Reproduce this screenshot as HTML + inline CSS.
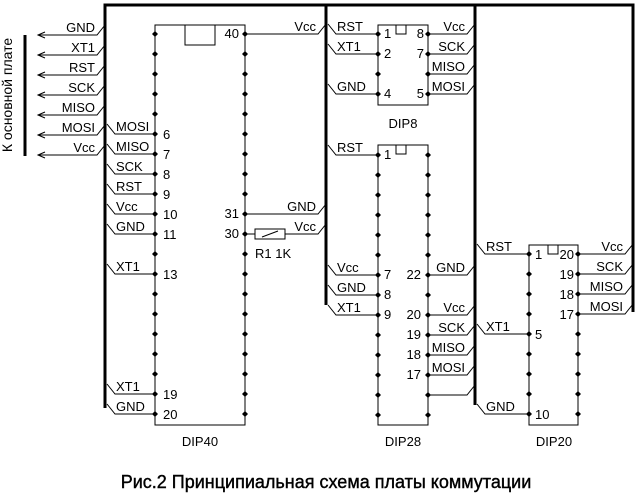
<!DOCTYPE html>
<html><head><meta charset="utf-8"><style>
html,body{margin:0;padding:0;background:#fff;}
svg{display:block;font-family:"Liberation Sans",Arial,sans-serif;}
text{font-size:13px;fill:#000;}
</style></head><body>
<svg id="s" width="640" height="498" viewBox="0 0 640 498" xmlns="http://www.w3.org/2000/svg">
<g stroke="#000" stroke-width="3" fill="none">
<path d="M105,408 V5 H633 V312"/>
<path d="M326,5 V305"/>
<path d="M475,5 V405"/>
<path d="M25,35 V156"/>
</g>
<g id="w" stroke="#000" stroke-width="1" fill="none">
<path d="M155,425 V25 H245 V425 Z"/>
<rect x="185" y="25" width="30" height="20"/>
<path d="M378,105 V25 H428 V105 Z"/>
<path d="M396,25 v9 h10 v-9"/>
<path d="M378,425 V145 H428 V425 Z"/>
<path d="M396,145 v9 h10 v-9"/>
<path d="M529,425 V245 H578 V425 Z"/>
<path d="M548,245 v9 h10 v-9"/>
<path d="M38,35 H97 L105,25 M38,55 H97 L105,45 M38,75 H97 L105,65 M38,95 H97 L105,85 M38,115 H97 L105,105 M38,135 H97 L105,125 M38,155 H97 L105,145"/>
<path d="M45,32 L38,35 L45,38 M45,52 L38,55 L45,58 M45,72 L38,75 L45,78 M45,92 L38,95 L45,98 M45,112 L38,115 L45,118 M45,132 L38,135 L45,138 M45,152 L38,155 L45,158"/>
<path d="M107,124 L115,134 H155 M107,144 L115,154 H155 M107,164 L115,174 H155 M107,184 L115,194 H155 M107,204 L115,214 H155 M107,224 L115,234 H155 M107,264 L115,274 H155 M107,384 L115,394 H155 M107,404 L115,414 H155"/>
<path d="M245,34 H318 L326,24 M245,214 H318 L326,204 M245,234 H255 M285,234 H318 L326,224"/>
<rect x="255" y="229" width="30" height="10"/>
<path d="M262,237 L278,231"/>
<path d="M328,24 L336,34 H378 M328,44 L336,54 H378 M328,84 L336,94 H378"/>
<path d="M428,34 H467 L475,24 M428,54 H467 L475,44 M428,74 H467 L475,64 M428,94 H467 L475,84"/>
<path d="M328,145 L336,155 H378 M328,265 L336,275 H378 M328,285 L336,295 H378 M328,305 L336,315 H378"/>
<path d="M428,275 H467 L475,265 M428,315 H467 L475,305 M428,335 H467 L475,325 M428,355 H467 L475,345 M428,375 H467 L475,365 M428,395 H467 L475,385"/>
<path d="M477,244 L485,254 H529 M477,324 L485,334 H529 M477,404 L485,414 H529"/>
<path d="M578,254 H625 L633,244 M578,274 H625 L633,264 M578,294 H625 L633,284 M578,314 H625 L633,304"/>
</g>
<g id="d"></g>
<text x="12" y="95" text-anchor="middle" transform="rotate(-90 12 95)" style="font-size:14px">К основной плате</text>
<g text-anchor="end">
<text x="95" y="32">GND</text><text x="95" y="52">XT1</text><text x="95" y="72">RST</text><text x="95" y="92">SCK</text><text x="95" y="112">MISO</text><text x="95" y="132">MOSI</text><text x="95" y="152">Vcc</text>
<text x="316" y="31">Vcc</text><text x="316" y="211">GND</text><text x="316" y="231">Vcc</text>
<text x="239" y="38">40</text><text x="239" y="218">31</text><text x="239" y="238">30</text>
<text x="465" y="31">Vcc</text><text x="465" y="51">SCK</text><text x="465" y="71">MISO</text><text x="465" y="91">MOSI</text>
<text x="424" y="38">8</text><text x="424" y="58">7</text><text x="424" y="98">5</text>
<text x="465" y="272">GND</text><text x="465" y="312">Vcc</text><text x="465" y="332">SCK</text><text x="465" y="352">MISO</text><text x="465" y="372">MOSI</text>
<text x="421" y="279">22</text><text x="421" y="319">20</text><text x="421" y="339">19</text><text x="421" y="359">18</text><text x="421" y="379">17</text>
<text x="623" y="251">Vcc</text><text x="623" y="271">SCK</text><text x="623" y="291">MISO</text><text x="623" y="311">MOSI</text>
<text x="574" y="259">20</text><text x="574" y="279">19</text><text x="574" y="299">18</text><text x="574" y="319">17</text>
</g>
<g>
<text x="116" y="131">MOSI</text><text x="116" y="151">MISO</text><text x="116" y="171">SCK</text><text x="116" y="191">RST</text><text x="116" y="211">Vcc</text><text x="116" y="231">GND</text><text x="116" y="271">XT1</text><text x="116" y="391">XT1</text><text x="116" y="411">GND</text>
<text x="163" y="139">6</text><text x="163" y="159">7</text><text x="163" y="179">8</text><text x="163" y="199">9</text><text x="163" y="219">10</text><text x="163" y="239">11</text><text x="163" y="279">13</text><text x="163" y="399">19</text><text x="163" y="419">20</text>
<text x="255" y="258">R1 1K</text>
<text x="337" y="31">RST</text><text x="337" y="51">XT1</text><text x="337" y="91">GND</text>
<text x="384" y="38">1</text><text x="384" y="58">2</text><text x="384" y="98">4</text>
<text x="337" y="152">RST</text><text x="337" y="272">Vcc</text><text x="337" y="292">GND</text><text x="337" y="312">XT1</text>
<text x="384" y="159">1</text><text x="384" y="279">7</text><text x="384" y="299">8</text><text x="384" y="319">9</text>
<text x="486" y="251">RST</text><text x="486" y="331">XT1</text><text x="486" y="411">GND</text>
<text x="535" y="259">1</text><text x="535" y="339">5</text><text x="535" y="419">10</text>
</g>
<g text-anchor="middle">
<text x="200" y="446">DIP40</text><text x="403" y="128">DIP8</text><text x="403" y="446">DIP28</text><text x="554" y="446">DIP20</text>
<text x="326" y="488" style="font-size:18px;stroke:#000;stroke-width:0.4">Рис.2 Принципиальная схема платы коммутации</text>
</g>
</svg>
<script>
var g=document.getElementById('d'),ns='http://www.w3.org/2000/svg';
function dot(x,y){var c=document.createElementNS(ns,'path');c.setAttribute('d','M'+x+','+(y-3)+'L'+(x+3)+','+y+'L'+x+','+(y+3)+'L'+(x-3)+','+y+'Z');c.setAttribute('fill','#000');g.appendChild(c);}
function col(x,y0,n){for(var i=0;i<n;i++)dot(x,y0+20*i);}
col(155,34,20);col(245,34,20);col(378,34,4);col(428,34,4);col(378,155,14);col(428,155,14);col(529,254,9);col(578,254,9);
</script>
</body></html>
